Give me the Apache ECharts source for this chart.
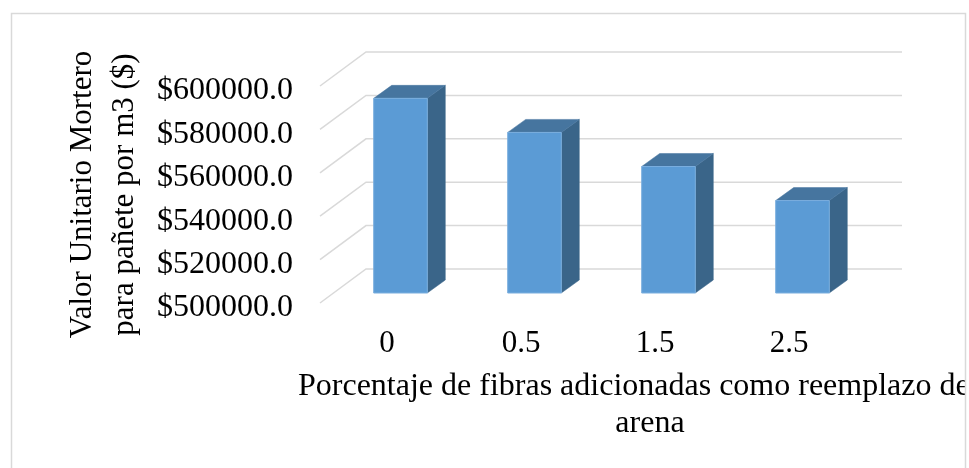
<!DOCTYPE html>
<html>
<head>
<meta charset="utf-8">
<script src="https://cdn.jsdelivr.net/npm/echarts@6/dist/echarts.min.js"></script>
<style>
  html, body { margin: 0; padding: 0; background: #ffffff; }
  #chart { width: 969px; height: 468px; }
</style>
</head>
<body>
<div id="chart"></div>
<script>
// Fibre replacement percentages (category axis)
const categories = ['0', '0.5', '1.5', '2.5'];
// Unit cost of plaster mortar per m3
const unitCost = [589700, 574000, 558300, 542600];
// Value axis ticks
const valueTicks = [500000, 520000, 540000, 560000, 580000, 600000];

const yName = 'Valor Unitario Mortero\npara pañete por m3 ($)';
const xNameLines = ['Porcentaje de fibras adicionadas como reemplazo de', 'arena'];

const SERIF = '"Liberation Serif", "Times New Roman", serif';

// Perspective offsets (pixels) for the 3D look
const WALL_DX = 46, WALL_DY = -34;      // back wall relative to the front plane
const BAR_DX = 13.5, BAR_DY = -10;      // front face of the bars
const DEPTH_DX = 18, DEPTH_DY = -13;    // bar depth
const BAR_RATIO = 0.4;                  // bar width relative to the category band

const chart = echarts.init(document.getElementById('chart'), null, { renderer: 'canvas' });

function renderGrid(params, api) {
  const cs = params.coordSys;
  const v = api.value(0);
  const y = api.coord([0, v])[1];
  const x0 = cs.x;
  const x1 = cs.x + cs.width;
  return {
    type: 'polyline',
    shape: { points: [[x0, y], [x0 + WALL_DX, y + WALL_DY], [x1 + WALL_DX, y + WALL_DY]] },
    style: { stroke: '#d9d9d9', lineWidth: 1.5, fill: null }
  };
}

function renderBar(params, api) {
  const idx = api.value(0);
  const val = api.value(1);
  const top = api.coord([idx, val]);
  const base = api.coord([idx, valueTicks[0]]);
  const band = api.size([1, 0])[0];
  const w = band * BAR_RATIO;
  const x1 = top[0] - w / 2 + BAR_DX;
  const x2 = top[0] + w / 2 + BAR_DX;
  const yt = top[1] + BAR_DY;
  const yb = base[1] + BAR_DY;
  return {
    type: 'group',
    children: [
      {
        type: 'polygon',
        shape: { points: [[x2, yt], [x2, yb], [x2 + DEPTH_DX, yb + DEPTH_DY], [x2 + DEPTH_DX, yt + DEPTH_DY]] },
        style: { fill: '#3a6589', stroke: '#3a6589', lineWidth: 0.5 }
      },
      {
        type: 'polygon',
        shape: { points: [[x1, yt], [x2, yt], [x2 + DEPTH_DX, yt + DEPTH_DY], [x1 + DEPTH_DX, yt + DEPTH_DY]] },
        style: { fill: '#46759f', stroke: '#46759f', lineWidth: 0.5 }
      },
      {
        type: 'rect',
        shape: { x: x1, y: yt, width: x2 - x1, height: yb - yt },
        style: { fill: '#5b9bd5', stroke: '#7aaede', lineWidth: 1 }
      }
    ]
  };
}

const option = {
  backgroundColor: '#ffffff',
  animation: false,
  grid: { left: 320, right: 113, top: 86, bottom: 165, containLabel: false },
  xAxis: {
    type: 'category',
    data: categories,
    axisLine: { show: false },
    axisTick: { show: false },
    splitLine: { show: false },
    axisLabel: { color: '#000', fontFamily: SERIF, fontSize: 31, margin: 25 }
  },
  yAxis: {
    type: 'value',
    min: 500000,
    max: 600000,
    interval: 20000,
    axisLine: { show: false },
    axisTick: { show: false },
    splitLine: { show: false },
    axisLabel: {
      margin: 27,
      formatter: v => '{t|$' + v + '.0}',
      rich: {
        t: { color: '#000', fontFamily: SERIF, fontSize: 32, padding: [10, 0, 0, 0] }
      }
    },
    name: yName,
    nameLocation: 'middle',
    nameRotate: 90,
    nameGap: 174,
    nameTextStyle: { color: '#000', fontFamily: SERIF, fontSize: 31, lineHeight: 42 }
  },
  graphic: [
    {
      type: 'text',
      x: 298,
      y: 368,
      z: 10,
      style: {
        text: xNameLines[0],
        fill: '#000',
        font: '32px ' + SERIF,
        align: 'left',
        verticalAlign: 'top',
        lineHeight: 38
      }
    },
    {
      type: 'text',
      x: 650,
      y: 405,
      z: 10,
      style: {
        text: xNameLines[1],
        fill: '#000',
        font: '32px ' + SERIF,
        align: 'center',
        verticalAlign: 'top',
        lineHeight: 38
      }
    },
    {
      type: 'rect',
      shape: { x: 965, y: 0, width: 10, height: 468 },
      style: { fill: '#ffffff' },
      z: 20
    },
    {
      type: 'rect',
      shape: { x: 11.5, y: 13.5, width: 954, height: 480 },
      style: { fill: null, stroke: '#d9d9d9', lineWidth: 1.5 },
      z: 30
    }
  ],
  series: [
    {
      type: 'custom',
      name: 'grid',
      clip: false,
      silent: true,
      z: 1,
      data: valueTicks.map(v => [v]),
      encode: { y: 0 },
      renderItem: renderGrid
    },
    {
      type: 'custom',
      name: 'Valor Unitario',
      clip: false,
      z: 5,
      data: unitCost.map((v, i) => [i, v]),
      encode: { x: 0, y: 1 },
      renderItem: renderBar
    }
  ]
};

chart.setOption(option);
</script>
</body>
</html>
